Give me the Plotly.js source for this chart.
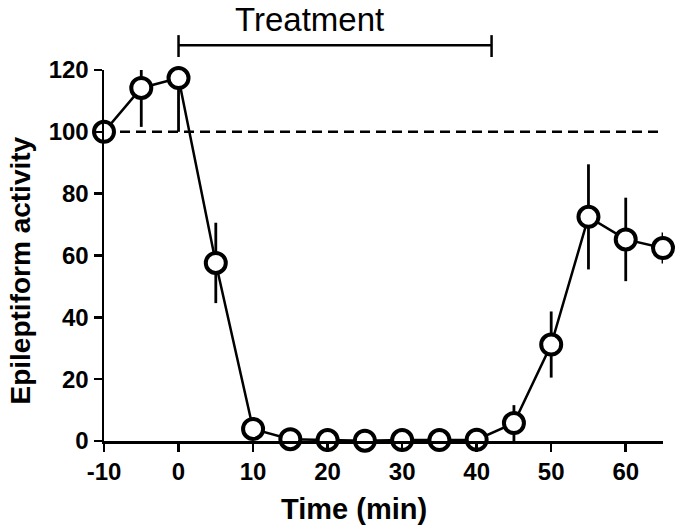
<!DOCTYPE html>
<html>
<head>
<meta charset="utf-8">
<script src="https://cdn.plot.ly/plotly-3.0.1.min.js"></script>
<style>html,body{margin:0;padding:0;background:#fff;}#chart{width:680px;height:531px;}</style>
</head>
<body>
<div id="chart"></div>
<script>
const timeMin = [-10, -5, 0, 5, 10, 15, 20, 25, 30, 35, 40, 45, 50, 55, 60, 65];
const activity = [100, 114.2, 117.4, 57.6, 3.9, 0.6, 0.3, 0.1, 0.3, 0.3, 0.4, 5.8, 31.2, 72.5, 65.2, 62.4];
const errPlus = [0, 5.8, 0, 13, 2, 0, 0, 0, 0, 0, 0, 5.8, 10.7, 17, 13.5, 5];
const errMinus = [0, 12.6, 17.4, 13, 2, 0, 0, 0, 0, 0, 0, 5.8, 10.7, 17, 13.5, 5];
const baselineValue = 100;
const treatmentStart = 0;
const treatmentEnd = 42;
const treatmentLabel = 'Treatment';
const xTitle = 'Time (min)';
const yTitle = 'Epileptiform activity';
const xTicks = [-10, 0, 10, 20, 30, 40, 50, 60];
const xTickText = ['-10', '0', '10', '20', '30', '40', '50', '60'];
const yTicks = [0, 20, 40, 60, 80, 100, 120];

const trace = {
  x: timeMin, y: activity, type: 'scatter', mode: 'lines+markers',
  line: {color: '#000', width: 2.5},
  marker: {symbol: 'circle', size: 20, color: '#fff', line: {color: '#000', width: 4}},
  error_y: {type: 'data', symmetric: false, array: errPlus, arrayminus: errMinus, color: '#000', thickness: 2.8, width: 0},
  cliponaxis: false, hoverinfo: 'skip'
};
const baseline = {
  x: [timeMin[0], timeMin[timeMin.length - 1]], y: [baselineValue, baselineValue],
  type: 'scatter', mode: 'lines', line: {color: '#000', width: 2.5, dash: '10px,6px'},
  hoverinfo: 'skip', cliponaxis: false
};

const yPaperBar = 1.067, yPaperTop = 1.094, yPaperBot = 1.035;
const FONT = 'Arial, Liberation Sans, sans-serif';
const layout = {
  width: 680, height: 531,
  margin: {l: 104, r: 17, t: 70, b: 90},
  paper_bgcolor: '#fff', plot_bgcolor: '#fff',
  showlegend: false,
  font: {family: FONT, color: '#000'},
  xaxis: {
    range: [-10, 65], tickvals: xTicks, ticktext: xTickText, ticks: 'outside', ticklen: 8, tickwidth: 2.5, tickcolor: '#000',
    showline: true, linecolor: '#000', linewidth: 2.5, showgrid: false, zeroline: false,
    tickfont: {size: 24, family: FONT, weight: 'bold', color: '#000'}
  },
  yaxis: {
    range: [0, 120], tickvals: yTicks, ticks: 'outside', ticklen: 8, tickwidth: 2.5, tickcolor: '#000',
    showline: true, linecolor: '#000', linewidth: 2.5, showgrid: false, zeroline: false,
    tickfont: {size: 24, family: FONT, weight: 'bold', color: '#000'}
  },
  shapes: [
    {type: 'line', xref: 'x', yref: 'paper', x0: treatmentStart, x1: treatmentEnd, y0: yPaperBar, y1: yPaperBar, line: {color: '#000', width: 2.5}},
    {type: 'line', xref: 'x', yref: 'paper', x0: treatmentStart, x1: treatmentStart, y0: yPaperBot, y1: yPaperTop, line: {color: '#000', width: 2.5}},
    {type: 'line', xref: 'x', yref: 'paper', x0: treatmentEnd, x1: treatmentEnd, y0: yPaperBot, y1: yPaperTop, line: {color: '#000', width: 2.5}}
  ],
  annotations: [
    {text: treatmentLabel, xref: 'x', yref: 'paper', x: 17.6, y: 1.137, yanchor: 'middle', showarrow: false,
     font: {size: 33, family: FONT, color: '#000'}},
    {text: xTitle, xref: 'paper', yref: 'paper', x: 0.447, y: -0.183, xanchor: 'center', yanchor: 'middle', showarrow: false,
     font: {size: 29, family: FONT, weight: 'bold', color: '#000'}},
    {text: yTitle, xref: 'paper', yref: 'paper', x: -0.15, y: 0.46, xanchor: 'center', yanchor: 'middle', textangle: -90, showarrow: false,
     font: {size: 28, family: FONT, weight: 'bold', color: '#000'}}
  ]
};
Plotly.newPlot('chart', [baseline, trace], layout, {displayModeBar: false, staticPlot: true});
</script>
</body>
</html>
